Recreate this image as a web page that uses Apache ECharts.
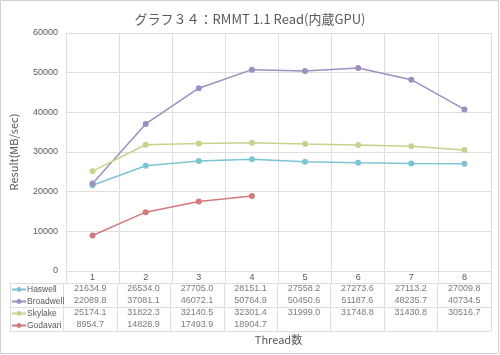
<!DOCTYPE html>
<html><head><meta charset="utf-8">
<script src="https://cdn.jsdelivr.net/npm/echarts@6/dist/echarts.min.js"></script>
<style>html,body{margin:0;padding:0;background:#fff}#c{width:500px;height:355px}</style>
</head><body><div id="c"></div>
<script>
const categories = ['1','2','3','4','5','6','7','8'];
const seriesNames = ['Haswell','Broadwell','Skylake','Godavari'];
const haswell   = [21634.9, 26534.0, 27705.0, 28151.1, 27558.2, 27273.6, 27113.2, 27009.8];
const broadwell = [22089.8, 37081.1, 46072.1, 50764.9, 50450.6, 51187.6, 48235.7, 40734.5];
const skylake   = [25174.1, 31822.3, 32140.5, 32301.4, 31999.0, 31748.8, 31430.8, 30516.7];
const godavari  = [8954.7, 14828.9, 17493.9, 18904.7];
const yTicks = [0, 10000, 20000, 30000, 40000, 50000, 60000];
const titleText = 'グラフ３４：RMMT 1.1 Read(内蔵GPU)';
const yName = 'Result(MB/sec)';
const xName = 'Thread数';

const values = [haswell, broadwell, skylake, godavari];
const colors = ['#7cc4d4', '#9d8fc0', '#c3d58c', '#d37a7a'];
const FONT = '"Noto Sans CJK JP", "Open Sans", sans-serif';
const NUMFONT = '"Liberation Sans", Arial, sans-serif';
const GRID = '#dedede';
const TXT = '#595959';

const chart = echarts.init(document.getElementById('c'), null, {renderer: 'canvas'});

const tableData = [];
values.forEach((arr, r) => arr.forEach((v, c) => tableData.push([c + 1, r, v])));

const lineSeries = seriesNames.map((n, i) => ({
  name: n, type: 'line', xAxisIndex: 0, yAxisIndex: 0,
  data: values[i], symbol: 'circle', symbolSize: 6,
  lineStyle: {color: colors[i], width: 1.5},
  itemStyle: {color: colors[i]},
  emphasis: {disabled: true}, animation: false
}));

const legends = seriesNames.map((n, i) => ({
  data: [n], left: 11, top: 285 + i * 12, itemWidth: 14, itemHeight: 6,
  itemGap: 4, padding: 0,
  textStyle: {color: TXT, fontSize: 8.5, fontFamily: NUMFONT, padding: [0, 0, 0, -4]},
  selectedMode: false
}));

chart.setOption({
  animation: false,
  textStyle: {fontFamily: FONT},
  title: {text: titleText, left: 'center', top: 8,
    textStyle: {color: TXT, fontSize: 13, fontWeight: 'normal', fontFamily: FONT}},
  legend: legends,
  grid: [
    {left: 63, right: 9, top: 33, bottom: 84},
    {left: 10, right: 9, top: 283, bottom: 24}
  ],
  xAxis: [
    {type: 'category', gridIndex: 0, data: categories, boundaryGap: true,
     name: xName, nameLocation: 'middle', nameGap: 63,
     nameTextStyle: {color: TXT, fontSize: 11, fontFamily: FONT},
     axisLine: {show: true, lineStyle: {color: GRID}},
     axisTick: {show: true, length: 12, inside: false, lineStyle: {color: GRID}},
     axisLabel: {color: TXT, fontSize: 9, margin: 2, fontFamily: NUMFONT},
     splitLine: {show: true, lineStyle: {color: GRID}}},
    {type: 'category', gridIndex: 1, data: ['', ...categories], boundaryGap: true,
     axisLine: {show: false}, axisTick: {show: false}, axisLabel: {show: false},
     splitLine: {show: true, lineStyle: {color: GRID}}}
  ],
  yAxis: [
    {type: 'value', gridIndex: 0, min: yTicks[0], max: yTicks[yTicks.length - 1], interval: yTicks[1] - yTicks[0],
     name: yName, nameLocation: 'middle', nameGap: 47, nameRotate: 90,
     nameTextStyle: {color: TXT, fontSize: 11, fontFamily: FONT},
     axisLine: {show: false}, axisTick: {show: false},
     axisLabel: {color: TXT, fontSize: 9, margin: 8, fontFamily: NUMFONT, formatter: v => String(v)},
     splitLine: {show: true, lineStyle: {color: GRID}}},
    {type: 'category', gridIndex: 1, data: seriesNames, inverse: true, boundaryGap: true,
     axisLine: {show: true, lineStyle: {color: GRID}}, axisTick: {show: false}, axisLabel: {show: false},
     splitLine: {show: true, lineStyle: {color: GRID}}}
  ],
  series: [
    ...lineSeries,
    {type: 'scatter', xAxisIndex: 1, yAxisIndex: 1, data: tableData,
     symbolSize: 0, silent: true,
     label: {show: true, position: 'inside', color: TXT, fontSize: 9, fontFamily: NUMFONT,
       formatter: p => p.value[2].toFixed(1)}}
  ],
  graphic: [{type: 'rect', shape: {x: 0.5, y: 0.5, width: 498, height: 353},
    style: {fill: 'none', stroke: '#d0d0d0', lineWidth: 1}, silent: true, z: -1}]
});
</script></body></html>
